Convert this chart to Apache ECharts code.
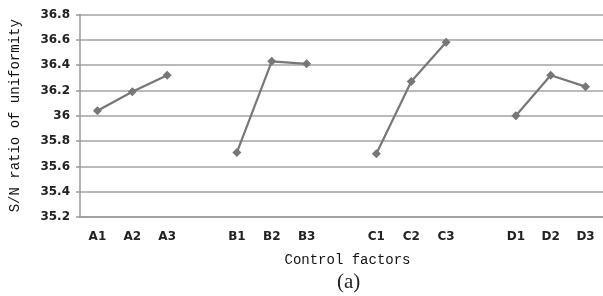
<!DOCTYPE html>
<html>
<head>
<meta charset="utf-8">
<style>
  html, body { margin: 0; padding: 0; background: #fff; }
  #chart { width: 603px; height: 296px; }
</style>
<script src="https://cdn.jsdelivr.net/npm/echarts@6/dist/echarts.min.js"></script>
</head>
<body>
<div id="chart"></div>
<script>
// x categories, blank slots separate the four factor groups
const categories = ['A1', 'A2', 'A3', '', 'B1', 'B2', 'B3', '', 'C1', 'C2', 'C3', '', 'D1', 'D2', 'D3']

// S/N ratio per level
const factorA = [36.04, 36.19, 36.32]
const factorB = [35.71, 36.43, 36.41]
const factorC = [35.70, 36.27, 36.58]
const factorD = [36.00, 36.32, 36.23]

const yTicks = { min: 35.2, max: 36.8, interval: 0.2 }

// spread the groups over the 15 slots, '-' marks a gap
const gap = ['-']
const seriesData = [].concat(factorA, gap, factorB, gap, factorC, gap, factorD)

const chart = echarts.init(document.getElementById('chart'))

const labelFont = { fontFamily: 'DejaVu Sans', fontWeight: 'bold', fontSize: 12, color: '#222' }
const monoFont = { fontFamily: 'Liberation Mono', fontSize: 14, color: '#111' }

chart.setOption({
  animation: false,
  grid: { left: 78, top: 14.5, width: 529, height: 202.5 },
  xAxis: {
    type: 'category',
    data: categories,
    boundaryGap: true,
    name: 'Control factors',
    nameLocation: 'middle',
    nameGap: 36,
    nameTextStyle: Object.assign({ padding: [0, 0, 0, 12] }, monoFont),
    axisLine: { lineStyle: { color: '#999', width: 1.5 } },
    axisTick: { interval: 0, length: 5, lineStyle: { color: '#999', width: 1.5 } },
    axisLabel: Object.assign({ interval: 0, margin: 14 }, labelFont),
    splitLine: { show: false }
  },
  yAxis: {
    type: 'value',
    min: yTicks.min,
    max: yTicks.max,
    interval: yTicks.interval,
    name: 'S/N ratio of uniformity',
    nameLocation: 'middle',
    nameGap: 58,
    nameTextStyle: monoFont,
    axisLine: { show: true, lineStyle: { color: '#999', width: 1.5 } },
    axisTick: { show: true, length: 4, lineStyle: { color: '#999', width: 1.5 } },
    axisLabel: Object.assign({
      margin: 10,
      formatter: v => String(parseFloat(v.toFixed(1)))
    }, labelFont),
    splitLine: { lineStyle: { color: '#a3a3a3', width: 1.5 } }
  },
  series: [{
    type: 'line',
    data: seriesData,
    connectNulls: false,
    symbol: 'diamond',
    symbolSize: 9,
    lineStyle: { color: '#777', width: 2.2 },
    itemStyle: { color: '#777' }
  }],
  graphic: [{
    type: 'text',
    left: 337,
    top: 272,
    style: { text: '(a)', font: '21px "Liberation Serif"', fill: '#222' }
  }]
})
</script>
</body>
</html>
